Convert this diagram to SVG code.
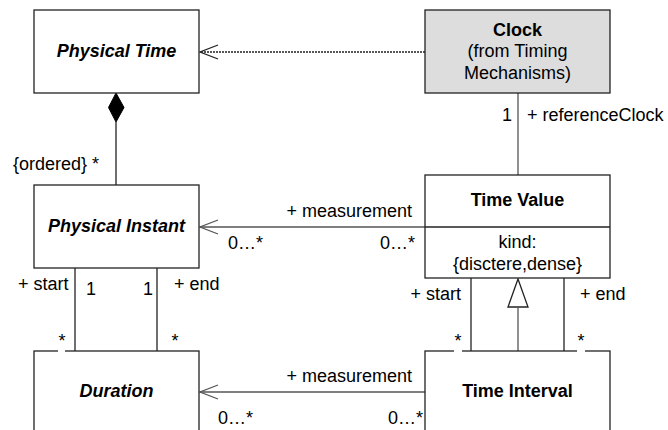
<svg xmlns="http://www.w3.org/2000/svg" width="668" height="430" viewBox="0 0 668 430">
<style>
text{font-family:"Liberation Sans",Arial,sans-serif;font-size:18px;fill:#000}
.b{font-weight:bold}
.bi{font-weight:bold;font-style:italic}
.m{text-anchor:middle}
.e{text-anchor:end}
.box{fill:#fff;stroke:#222;stroke-width:1.3}
.ln{fill:none;stroke:#222;stroke-width:1.3}
.gl{fill:none;stroke:#555;stroke-width:1.3}
.gap{fill:#fff}
</style>
<rect width="668" height="430" fill="#fff"/>
<g id="connectors">
  <line class="ln" x1="425" y1="52" x2="200" y2="52" stroke-dasharray="2,1"/>
  <polyline class="ln" points="218,45 200,52 218,59"/>
  <polygon points="116,93 124,107.5 116,122 108.5,107.5" fill="#000" stroke="#000"/>
  <line class="ln" x1="116" y1="122" x2="116" y2="185"/>
  <text x="13" y="170">{ordered} *</text>
  <line class="gl" x1="518" y1="93" x2="518" y2="175"/>
  <text x="512" y="121" class="e">1</text>
  <text x="527" y="121">+ referenceClock</text>
  <line class="gl" x1="425" y1="227" x2="200" y2="227"/>
  <polyline class="gl" points="218,220 200,227 218,234"/>
  <text x="412" y="217" class="e">+ measurement</text>
  <text x="228" y="249">0…*</text>
  <text x="415" y="249" class="e">0…*</text>
  <line class="ln" x1="75" y1="268" x2="75" y2="351"/>
  <line class="ln" x1="157" y1="268" x2="157" y2="351"/>
  <text x="18" y="290">+ start</text>
  <text x="86" y="295">1</text>
  <text x="143" y="295">1</text>
  <text x="174" y="290">+ end</text>
  <line class="gl" x1="425" y1="392" x2="200" y2="392"/>
  <polyline class="gl" points="218,385 200,392 218,399"/>
  <text x="412" y="382" class="e">+ measurement</text>
  <text x="218" y="424">0…*</text>
  <text x="423" y="424" class="e">0…*</text>
  <line class="ln" x1="471" y1="278" x2="471" y2="351"/>
  <line class="ln" x1="564" y1="278" x2="564" y2="351"/>
  <polygon points="518,279 528,307 508,307" fill="#fff" stroke="#222" stroke-width="1.3"/>
  <line class="gl" x1="518" y1="307" x2="518" y2="351"/>
  <text x="461" y="300" class="e">+ start</text>
  <text x="580" y="300">+ end</text>
</g>
<g id="physical-time">
  <rect class="box" x="34" y="10" width="165" height="83"/>
  <text x="116.5" y="57" class="bi m">Physical Time</text>
</g>
<g id="clock">
  <rect x="425" y="10" width="185" height="83" fill="#dddddd" stroke="#222" stroke-width="1.3"/>
  <text x="517.5" y="36" class="b m">Clock</text>
  <text x="517.5" y="57" class="m">(from Timing</text>
  <text x="517.5" y="79" class="m">Mechanisms)</text>
</g>
<g id="physical-instant">
  <rect class="box" x="34" y="185" width="165" height="83"/>
  <text x="116.5" y="232" class="bi m">Physical Instant</text>
</g>
<g id="time-value">
  <rect class="box" x="425" y="175" width="185" height="103"/>
  <line class="ln" x1="425" y1="227" x2="610" y2="227"/>
  <text x="517.5" y="206" class="b m">Time Value</text>
  <text x="517.5" y="248" class="m">kind:</text>
  <text x="517.5" y="270" class="m">{disctere,dense}</text>
</g>
<g id="duration">
  <rect class="box" x="34" y="351" width="165" height="90"/>
  <rect class="gap" x="58" y="347" width="7" height="7"/>
  <text x="62" y="347" class="m">*</text>
  <text x="175" y="347" class="m">*</text>
  <text x="116.5" y="397" class="bi m">Duration</text>
</g>
<g id="time-interval">
  <rect class="box" x="425" y="351" width="185" height="90"/>
  <rect class="gap" x="454" y="347" width="8" height="7"/>
  <rect class="gap" x="577" y="347" width="8" height="7"/>
  <text x="458" y="347" class="m">*</text>
  <text x="581" y="347" class="m">*</text>
  <text x="517.5" y="397" class="b m">Time Interval</text>
</g>
</svg>
